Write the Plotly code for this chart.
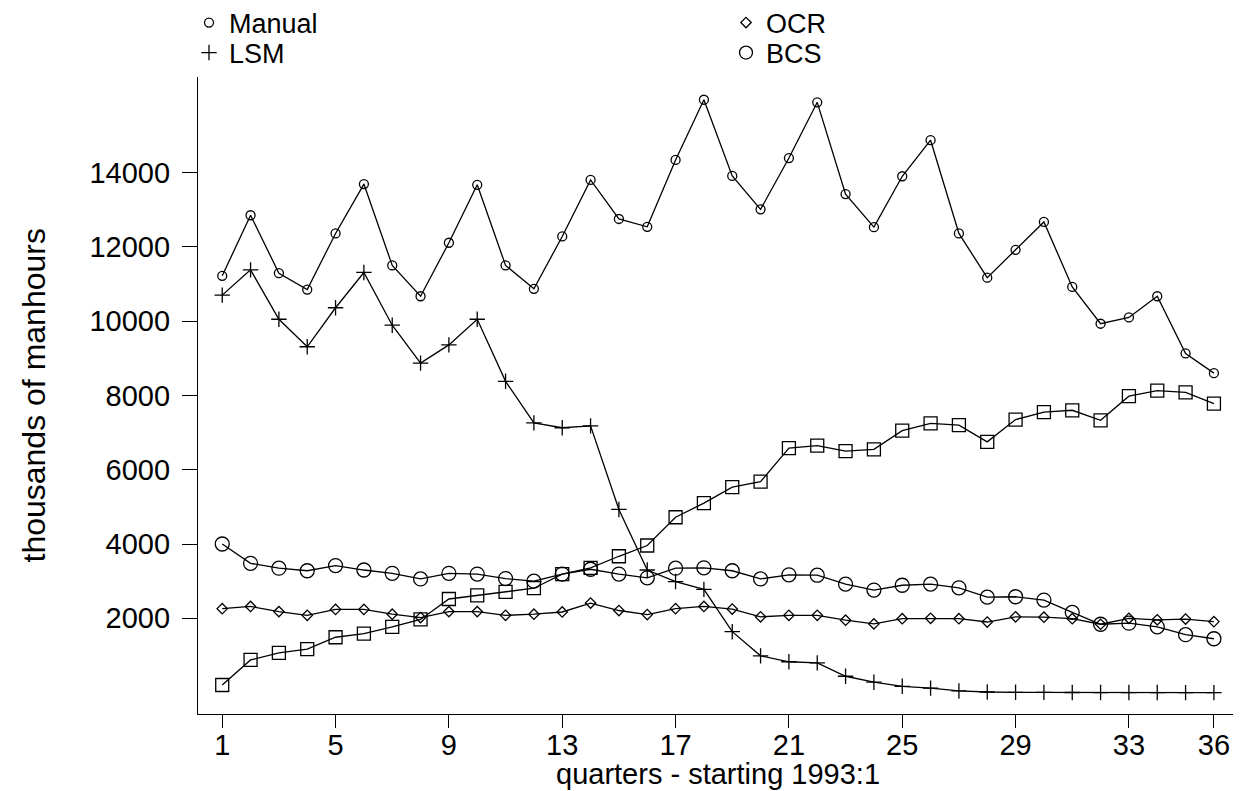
import plotly.graph_objects as go

quarters = list(range(1, 37))

manual = [11220, 12850, 11290, 10850, 12360, 13690, 11500, 10670, 12110, 13670,
          11500, 10870, 12280, 13800, 12750, 12540, 14340, 15960, 13910, 13010,
          14390, 15890, 13420, 12530, 13900, 14870, 12360, 11170, 11920, 12670,
          10920, 9930, 10100, 10670, 9130, 8600]

lsm = [10700, 11380, 10050, 9310, 10360, 11310, 9890, 8870, 9360, 10050,
       8380, 7260, 7130, 7180, 4930, 3300, 2990, 2780, 1640, 990,
       830, 800, 440, 280, 170, 120, 45, 16, 8, 5,
       3, 2, 1, 1, 0, 0]

ocr = [2260, 2320, 2180, 2080, 2240, 2240, 2110, 2020, 2180, 2180,
       2080, 2110, 2170, 2410, 2210, 2100, 2260, 2320, 2250, 2040,
       2080, 2080, 1950, 1850, 1990, 2000, 1990, 1900, 2040, 2030,
       1990, 1840, 2000, 1960, 1980, 1910]

bcs = [4000, 3480, 3350, 3280, 3420, 3300, 3210, 3060, 3210, 3190,
       3070, 3000, 3190, 3320, 3190, 3090, 3350, 3360, 3280, 3060,
       3170, 3160, 2920, 2760, 2890, 2920, 2820, 2570, 2580, 2490,
       2160, 1840, 1870, 1770, 1560, 1450]

squares = [205, 880, 1070, 1170, 1490, 1590, 1770, 1970, 2520, 2620,
           2710, 2810, 3190, 3360, 3670, 3960, 4720, 5100, 5530, 5680,
           6580, 6650, 6500, 6550, 7050, 7250, 7200, 6750, 7350, 7550,
           7600, 7330, 7980, 8130, 8080, 7780]

x_ticks = [1, 5, 9, 13, 17, 21, 25, 29, 33, 36]
y_ticks = [2000, 4000, 6000, 8000, 10000, 12000, 14000]

FONT = "Liberation Sans, Arial, Helvetica, sans-serif"
BLACK = "#000000"

series = [
    ("Manual", manual, "circle-open", 9, "legend"),
    ("LSM", lsm, "cross-thin-open", 11, "legend2"),
    ("OCR", ocr, "diamond-open", 8, "legend3"),
    ("BCS", bcs, "circle-open", 14, "legend4"),
    ("other", squares, "square-open", 13, None),
]

fig = go.Figure()
for name, vals, sym, size, leg in series:
    fig.add_trace(go.Scatter(
        x=quarters, y=vals, mode="lines+markers", name=name,
        line=dict(color=BLACK, width=1.3),
        marker=dict(symbol=sym, size=size, color=BLACK,
                    line=dict(color=BLACK, width=1.3)),
        showlegend=False,
    ))
    if leg is not None:
        fig.add_trace(go.Scatter(
            x=[None], y=[None], mode="markers", name=name, legend=leg,
            marker=dict(symbol=sym, size=min(size, 12) if name != "BCS" else 13,
                        color=BLACK, line=dict(color=BLACK, width=1.3)),
            showlegend=True,
        ))

# page body has an 8px margin: lay out in screen pixels, then subtract it
OFF = 8
W, H = 1241 - OFF, 791 - OFF
ML, MT = 198 - OFF, 77 - OFF
MR = W - (1238 - OFF)
MB = H - (714 - OFF)
PW, PH = W - ML - MR, H - MT - MB

def px_x(s):
    return (s - OFF - ML) / PW

def px_y(s):
    return 1 + (MT - (s - OFF)) / PH

leg_common = dict(bgcolor="rgba(0,0,0,0)", borderwidth=0,
                  font=dict(family=FONT, size=27, color=BLACK),
                  xanchor="left", yanchor="middle", orientation="v")

fig.update_layout(
    width=W, height=H,
    margin=dict(l=ML, r=MR, t=MT, b=MB, autoexpand=False),
    paper_bgcolor="white", plot_bgcolor="white",
    font=dict(family=FONT, color=BLACK),
    legend=dict(x=px_x(189), y=px_y(23), **leg_common),
    legend2=dict(x=px_x(189), y=px_y(53), **leg_common),
    legend3=dict(x=px_x(726), y=px_y(23), **leg_common),
    legend4=dict(x=px_x(726), y=px_y(53), **leg_common),
    xaxis=dict(range=[0.145, 36.85], tickvals=x_ticks, ticktext=[str(v) for v in x_ticks],
               showline=True, linecolor=BLACK, linewidth=1.3, mirror=False,
               ticks="outside", ticklen=13, tickwidth=1.3, tickcolor=BLACK,
               showgrid=False, zeroline=False, automargin=False, ticklabelstandoff=-8,
               tickfont=dict(family=FONT, size=29, color=BLACK)),
    yaxis=dict(range=[-576, 16572], tickvals=y_ticks, ticktext=[str(v) for v in y_ticks],
               showline=True, linecolor=BLACK, linewidth=1.3, mirror=False,
               ticks="outside", ticklen=15, tickwidth=1.3, tickcolor=BLACK,
               showgrid=False, zeroline=False, ticklabelstandoff=6, automargin=False,
               tickfont=dict(family=FONT, size=29, color=BLACK)),
    annotations=[
        dict(text="quarters - starting 1993:1", xref="paper", yref="paper",
             x=0.5, y=px_y(792), xanchor="center", yanchor="bottom",
             showarrow=False, font=dict(family=FONT, size=29, color=BLACK)),
        dict(text="thousands of manhours", xref="paper", yref="paper",
             x=px_x(33), y=0.5, xanchor="center", yanchor="middle", textangle=-90,
             showarrow=False, font=dict(family=FONT, size=32, color=BLACK)),
    ],
)

fig.write_html("out.html")
